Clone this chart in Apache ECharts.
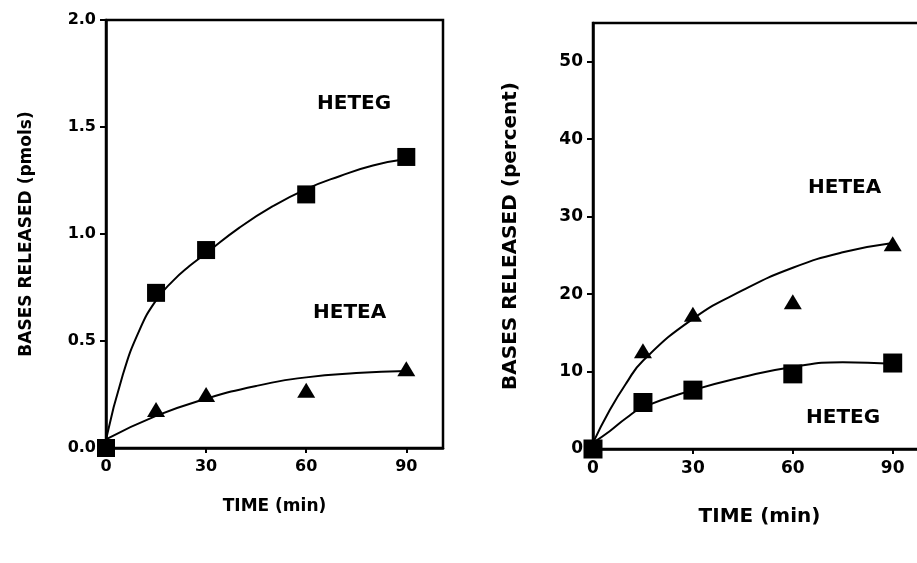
<!DOCTYPE html>
<html>
<head>
<meta charset="utf-8">
<script src="https://cdn.jsdelivr.net/npm/echarts@6/dist/echarts.min.js"></script>
<style>
  html, body { margin: 0; padding: 0; background: #fff; overflow: hidden; }
  #chart { width: 917px; height: 563px; }
</style>
</head>
<body>
<div id="chart"></div>
<script>
// Time points (min) for measured values
const timePoints = [0, 15, 30, 60, 90];

// Panel A: bases released (pmols)
const pmolHETEG = [0, 0.725, 0.925, 1.185, 1.36];
const pmolHETEA = [0, 0.18, 0.25, 0.27, 0.37];
// Fitted curves, panel A
const fitTimeA = [0, 5, 10, 15, 20, 25, 30, 40, 50, 60, 70, 80, 90];
const fitHETEG_A = [0.04, 0.34, 0.55, 0.69, 0.78, 0.85, 0.91, 1.03, 1.13, 1.21, 1.27, 1.32, 1.35];
const fitTimeA2 = [0, 15, 30, 45, 60, 75, 90];
const fitHETEA_A = [0.04, 0.15, 0.23, 0.29, 0.33, 0.35, 0.36];

// Panel B: bases released (percent)
const pctHETEA = [0, 12.7, 17.4, 19.0, 26.5];
const pctHETEG = [0, 6.0, 7.6, 9.7, 11.1];
// Fitted curves, panel B
const fitTimeB = [0, 5, 10, 15, 30, 45, 60, 75, 90];
const fitHETEA_B = [0.8, 5.0, 8.5, 11.4, 16.8, 20.5, 23.4, 25.4, 26.6];
const fitHETEG_B = [0.8, 2.3, 4.0, 5.4, 7.6, 9.3, 10.6, 11.2, 11.0];

// Tick labels
const xTicks = [0, 30, 60, 90];
const yTicksA = [0, 0.5, 1.0, 1.5, 2.0];
const yTicksB = [0, 10, 20, 30, 40, 50];

const FONT = '"DejaVu Sans", sans-serif';
const pair = (xs, ys) => xs.map((x, i) => [x, ys[i]]);

const chart = echarts.init(document.getElementById('chart'), null, { renderer: 'canvas' });

function xAxisFor(gridIndex, max, nameGap, nameSize, labelSize) {
  return {
    type: 'value', gridIndex, min: 0, max,
    name: 'TIME (min)', nameLocation: 'middle', nameGap,
    nameTextStyle: { fontFamily: FONT, fontWeight: 'bold', fontSize: nameSize, color: '#000' },
    axisLine: { show: true, onZero: false, lineStyle: { color: '#000', width: 2.5 } },
    axisTick: { show: true, inside: false, length: 5, customValues: xTicks, lineStyle: { color: '#000', width: 2 } },
    axisLabel: { customValues: xTicks, margin: 11, fontFamily: FONT, fontWeight: 'bold', fontSize: labelSize, color: '#000' },
    splitLine: { show: false }
  };
}
function yAxisFor(gridIndex, max, ticks, name, nameGap, nameSize, labelSize, fmt) {
  return {
    type: 'value', gridIndex, min: 0, max,
    name, nameLocation: 'middle', nameGap, nameRotate: 90,
    nameTextStyle: { fontFamily: FONT, fontWeight: 'bold', fontSize: nameSize, color: '#000' },
    axisLine: { show: true, onZero: false, lineStyle: { color: '#000', width: 2.5 } },
    axisTick: { show: true, inside: false, length: 6, customValues: ticks, lineStyle: { color: '#000', width: 2 } },
    axisLabel: { customValues: ticks, margin: 10, fontFamily: FONT, fontWeight: 'bold', fontSize: labelSize, color: '#000', formatter: fmt },
    splitLine: { show: false }
  };
}

const lineStyle = { color: '#000', width: 2 };
function curve(xi, yi, xs, ys) {
  return { type: 'line', xAxisIndex: xi, yAxisIndex: yi, data: pair(xs, ys), smooth: 0.5,
    showSymbol: false, symbol: 'none', lineStyle, silent: true, z: 2 };
}
function points(xi, yi, ys, symbol, size) {
  return { type: 'scatter', xAxisIndex: xi, yAxisIndex: yi, data: pair(timePoints, ys),
    symbol, symbolSize: size, itemStyle: { color: '#000', opacity: 1 }, silent: true, z: 3 };
}

const option = {
  backgroundColor: '#fff',
  animation: false,
  grid: [
    { left: 106, top: 20, width: 337, height: 428, show: true, borderColor: '#000', borderWidth: 2.5,
      backgroundColor: 'transparent', outerBoundsMode: 'none' },
    // the right panel's frame runs past the page edge
    { left: 593, top: 23, width: 333, height: 426, show: true, borderColor: '#000', borderWidth: 2.5,
      backgroundColor: 'transparent', outerBoundsMode: 'none' }
  ],
  xAxis: [
    xAxisFor(0, 101, 50, 17, 16),
    xAxisFor(1, 100, 58, 20, 17)
  ],
  yAxis: [
    yAxisFor(0, 2.0, yTicksA, 'BASES RELEASED (pmols)', 71, 17, 16, v => v.toFixed(1)),
    yAxisFor(1, 55, yTicksB, 'BASES RELEASED (percent)', 72, 20, 17, v => String(v))
  ],
  series: [
    curve(0, 0, fitTimeA, fitHETEG_A),
    curve(0, 0, fitTimeA2, fitHETEA_A),
    points(0, 0, pmolHETEG, 'rect', 18),
    points(0, 0, pmolHETEA, 'triangle', [18, 15]),
    curve(1, 1, fitTimeB, fitHETEA_B),
    curve(1, 1, fitTimeB, fitHETEG_B),
    points(1, 1, pctHETEA, 'triangle', [18, 15]),
    points(1, 1, pctHETEG, 'rect', 19)
  ],
  graphic: [
    { type: 'text', left: 317, top: 94, style: { text: 'HETEG', font: 'bold 20px ' + FONT, fill: '#000' } },
    { type: 'text', left: 313, top: 303, style: { text: 'HETEA', font: 'bold 20px ' + FONT, fill: '#000' } },
    { type: 'text', left: 808, top: 178, style: { text: 'HETEA', font: 'bold 20px ' + FONT, fill: '#000' } },
    { type: 'text', left: 806, top: 408, style: { text: 'HETEG', font: 'bold 20px ' + FONT, fill: '#000' } }
  ]
};
chart.setOption(option);
</script>
</body>
</html>
